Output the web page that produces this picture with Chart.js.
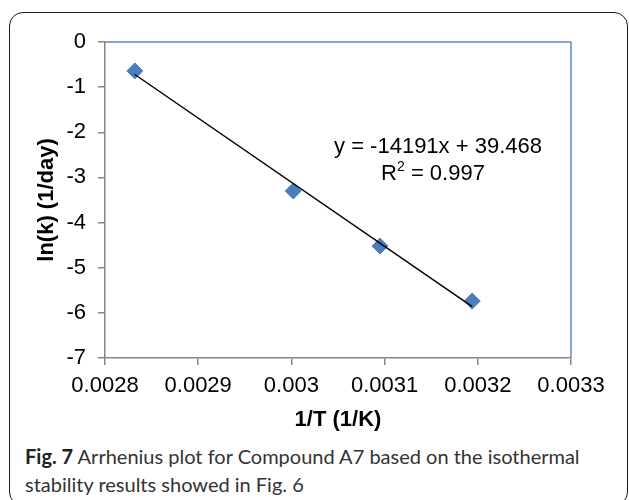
<!DOCTYPE html>
<html>
<head>
<meta charset="utf-8">
<script src="https://cdn.jsdelivr.net/npm/chart.js@4"></script>
<style>
  html, body { margin: 0; padding: 0; background: #fff; }
  body { width: 629px; height: 500px; position: relative; overflow: hidden; }
  #frame {
    position: absolute; left: 9px; top: 12px; width: 617px; height: 492px;
    border: 1.5px solid #1a1a1a; border-radius: 14px;
  }
  #arrhenius { position: absolute; left: 0; top: 0; }
  #caption {
    position: absolute; left: 25px; top: 442px;
    font-family: Lato, "Open Sans", sans-serif; font-size: 20px; line-height: 28px;
    color: #333; white-space: nowrap;
  }
  #caption b { color: #222; }
</style>
</head>
<body>
<div id="frame"></div>
<canvas id="arrhenius" width="629" height="440"></canvas>
<div id="caption"><b>Fig. 7</b> Arrhenius plot for Compound A7 based on the isothermal<br>stability results showed in Fig. 6</div>
<script>
// 1/T (1/K) and ln(k) (1/day)
const invTemp = [0.002832, 0.003002, 0.003095, 0.003194];
const lnK = [-0.64, -3.30, -4.52, -5.74];

// end points of the linear trend line
const trendX = [0.002832, 0.003194];
const trendY = [-0.72, -5.86];

const xTicks = [0.0028, 0.0029, 0.003, 0.0031, 0.0032, 0.0033];
const yTicks = [0, -1, -2, -3, -4, -5, -6, -7];

const equationText = "y = -14191x + 39.468";
const rSquaredText = " = 0.997";

const FONT = "'Liberation Sans', Arial, Helvetica, sans-serif";
const axisGrey = "#868686";
const pointBlue = "#4a7ebb";

// blue plot-area edge on top and right, plus the trendline label
const plotFrame = {
  id: "plotFrame",
  beforeDraw(chart) {
    const { ctx, chartArea: a } = chart;
    ctx.save();
    ctx.strokeStyle = "#5b8bd0";
    ctx.lineWidth = 1.5;
    ctx.beginPath();
    ctx.moveTo(a.left, a.top);
    ctx.lineTo(a.right, a.top);
    ctx.lineTo(a.right, a.bottom);
    ctx.stroke();
    ctx.restore();
  },
  afterDatasetsDraw(chart) {
    const { ctx, chartArea: a } = chart;
    ctx.save();
    ctx.fillStyle = "#000";
    ctx.textBaseline = "middle";
    ctx.font = "22px " + FONT;
    ctx.textAlign = "center";
    ctx.fillText(equationText, a.left + 333, a.top + 105);

    // R² with a raised small 2
    ctx.textAlign = "left";
    const big = "22px " + FONT, small = "14px " + FONT;
    ctx.font = big;
    const wR = ctx.measureText("R").width;
    const wRest = ctx.measureText(rSquaredText).width;
    ctx.font = small;
    const w2 = ctx.measureText("2").width;
    let x = a.left + 328 - (wR + w2 + wRest) / 2;
    const y2 = a.top + 132;
    ctx.font = big;
    ctx.fillText("R", x, y2);
    x += wR;
    ctx.font = small;
    ctx.fillText("2", x, y2 - 7);
    x += w2;
    ctx.font = big;
    ctx.fillText(rSquaredText, x, y2);
    ctx.restore();
  }
};

const ctx = document.getElementById("arrhenius").getContext("2d");

new Chart(ctx, {
  type: "scatter",
  data: {
    datasets: [
      {
        label: "Trend",
        data: trendX.map((x, i) => ({ x, y: trendY[i] })),
        showLine: true,
        borderColor: "#000",
        borderWidth: 1.5,
        pointRadius: 0,
        order: 0
      },
      {
        label: "ln(k)",
        data: invTemp.map((x, i) => ({ x, y: lnK[i] })),
        pointStyle: "rectRot",
        pointRadius: 8,
        backgroundColor: pointBlue,
        borderColor: pointBlue,
        borderWidth: 1,
        order: 1
      }
    ]
  },
  options: {
    responsive: false,
    animation: false,
    layout: { padding: { top: 42, right: 58, left: 0, bottom: 0 } },
    plugins: {
      legend: { display: false },
      tooltip: { enabled: false }
    },
    scales: {
      x: {
        type: "linear",
        min: 0.0028,
        max: 0.0033,
        afterBuildTicks: (scale) => { scale.ticks = xTicks.map(v => ({ value: v })); },
        afterFit: (scale) => { scale.height = 82; },
        ticks: {
          color: "#000",
          padding: 8,
          font: { family: FONT, size: 22, lineHeight: 1.2 },
          callback: (v) => String(+v.toFixed(4))
        },
        grid: { drawOnChartArea: false, color: axisGrey, lineWidth: 1.5, tickLength: 7 },
        border: { color: axisGrey, width: 1.5 },
        title: {
          display: true,
          text: "1/T (1/K)",
          color: "#000",
          font: { family: FONT, size: 22, weight: "bold", lineHeight: 1.2 },
          padding: { top: 0, bottom: 7 }
        }
      },
      y: {
        type: "linear",
        min: -7,
        max: 0,
        afterBuildTicks: (scale) => { scale.ticks = yTicks.map(v => ({ value: v })); },
        afterFit: (scale) => { scale.width = 105; },
        ticks: {
          color: "#000",
          padding: 12,
          font: { family: FONT, size: 22, lineHeight: 1.2 }
        },
        grid: { drawOnChartArea: false, color: axisGrey, lineWidth: 1.5, tickLength: 7 },
        border: { color: axisGrey, width: 1.5 },
        title: {
          display: true,
          text: "ln(k) (1/day)",
          color: "#000",
          font: { family: FONT, size: 22, weight: "bold", lineHeight: 1.2 },
          padding: { top: 34, bottom: 0 }
        }
      }
    }
  },
  plugins: [plotFrame]
});
</script>
</body>
</html>
